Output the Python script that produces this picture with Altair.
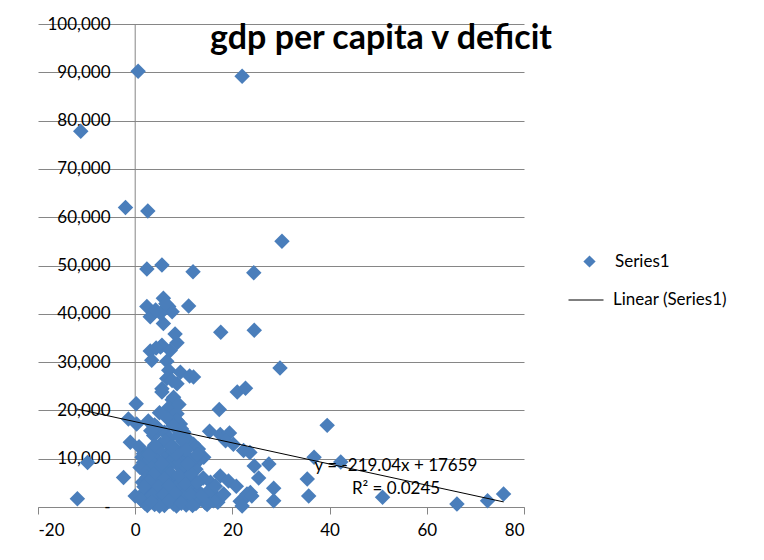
import altair as alt
import pandas as pd

# ---- data (deficit, gdp per capita) ----
deficit = [
    0.6, 22.0, -11.2, -2.0, 2.6, 30.2,
    2.4, 5.5, 11.9, 24.4,
    11.0, 17.6, 24.5, 29.8, 21.0, 22.7, 17.3,
    0.2, 39.5, -1.4, 0.3, -1.0, -9.8, -2.4, -11.9, 0.0,
    36.8, 42.3, 35.4, 35.7, 50.9, 66.2, 72.5, 75.8,
    24.5, 27.5, 25.4, 28.5, 28.5,
    15.3, 17.5, 19.4, 18.6, 20.2, 22.3, 23.6,
    14.1, 13.2, 12.0,
    17.5, 19.2, 20.8, 23.7, 22.0, 14.4, 16.1, 18.2, 21.6, 23.0, 24.0, 22.0, 16.1, 17.0,
    2.4, 5.8, 6.9, 7.6, 3.1, 5.8, 5.2, 4.2, 6.3,
    8.2, 8.6, 5.5, 5.2, 3.1, 7.2, 3.4, 6.5, 4.3,
    6.9, 9.3, 12.0, 6.5, 7.6, 8.6, 5.5, 11.2,
    7.6, 8.2, 6.9, 7.9, 5.5, 7.9, 9.0, 8.6,
    2.7, 9.3, 8.6, 10.0, 3.8, 5.2, 11.7, 9.5, 6.0, 4.5, 10.8, 7.0,
    1.7, 3.5, 6.5, 4.8, 8.0, 9.8,
    1.4, 4.5, 1.7, 9.3, 3.0, 6.0, 7.5, 11.0,
    1.0, 8.6, 11.3, 3.5, 5.0, 6.8, 10.0, 2.2, 12.5,
    2.4, 6.5, 10.7, 4.2, 8.2, 1.5, 5.5, 9.5, 12.0, 14.0, 15.5,
    3.1, 12.0, 6.5, 10.0, 14.8, 2.0, 4.5, 8.0, 11.0, 5.5, 9.0, 13.0,
    3.1, 5.2, 7.9, 11.3, 13.4, 16.1, 18.2, 2.0, 4.0, 6.5, 9.0, 10.5, 12.5,
    4.5, 7.2, 9.8, 1.2, 14.8, 6.0, 8.5, 0.8, 13.0, 12.0, 10.0,
    4.0, 6.5, 5.0, 7.8, 3.2, 8.8, 6.2, 4.0, 9.8, 10.5, 2.8, 5.5, 7.3, 3.8,
    9.0, 11.5, 6.0, 2.8, 4.8, 7.0, 10.3, 12.8, 1.8, 3.5, 5.8, 8.2, 11.5, 13.8,
    2.5, 5.0, 7.0, 9.5, 11.8, 3.3, 15.5, 16.5, 8.4, 10.8, 12.8, 7.5,
]
gdp = [
    90200, 89200, 77800, 62000, 61300, 55000,
    49300, 50100, 48700, 48500,
    41600, 36200, 36600, 28800, 23800, 24600, 20200,
    21400, 16900, 18200, 17200, 13400, 9200, 6100, 1700, 2300,
    10300, 9300, 5800, 2300, 2000, 600, 1300, 2700,
    8500, 8900, 6000, 3900, 1300,
    15700, 15000, 15300, 13700, 13000, 11700, 11300,
    10300, 9800, 13000,
    6400, 5400, 4300, 3000, 1300, 900, 1900, 2600, 1200, 2700, 2300, 200, 2650, 1000,
    41500, 43200, 41500, 40400, 39400, 38000, 40100, 40800, 42100,
    35800, 34000, 33500, 33100, 32300, 32400, 30400, 30200, 32900,
    28300, 27900, 26900, 26600, 26200, 25500, 24500, 27100,
    22200, 20600, 20600, 18900, 23800, 22700, 21200, 19300,
    17800, 17200, 17900, 15500, 14800, 13000, 13000, 16200, 15500, 16500, 14000, 14300,
    11000, 12000, 11000, 11800, 12300, 11200,
    10300, 9600, 9200, 10300, 9800, 10000, 9500, 10300,
    8200, 8900, 8200, 8000, 7600, 8400, 7400, 7200, 7800,
    6100, 6800, 6100, 6300, 5800, 5100, 5300, 5200, 5500, 6000, 5100,
    4400, 4400, 3300, 3300, 3000, 3200, 3600, 4000, 3700, 4500, 4700, 3200,
    1900, 1300, 600, 1300, 1900, 1300, 2700, 800, 500, 1800, 1500, 400, 700,
    2600, 2500, 2300, 1500, 500, 300, 200, 12500, 12000, 9900, 12000,
    17000, 18500, 19500, 16800, 15800, 14800, 13600, 12800, 13600, 11800, 10800, 9000, 7000, 6800,
    6500, 6800, 5800, 5300, 4200, 4300, 4800, 5000, 4200, 2500, 2600, 2900, 2500, 2500,
    300, 200, 1200, 800, 300, 1100, 3500, 4300, 11000, 9000, 10800, 12500,
]

# linear trend line, from the equation printed on the chart (y = -219.04x + 17659)
trend_x = [-12.0, 75.8]
trend_y = [20288, 1056]
eq_text = "y = -219.04x + 17659\nR² = 0.0245"

x_ticks = [-20, 0, 20, 40, 60, 80]
y_ticks = [0, 10000, 20000, 30000, 40000, 50000, 60000, 70000, 80000, 90000, 100000]

FONT = "Lato"
GRID = "#868686"
BLUE = "#4a7ebb"

pts_df = pd.DataFrame({"deficit": deficit, "gdp": gdp, "series": ["Series1"] * len(deficit)})
trend_df = pd.DataFrame({"deficit": trend_x, "gdp": trend_y, "series": ["Linear (Series1)"] * 2})
zero_df = pd.DataFrame({"deficit": [0]})

xscale = alt.Scale(domain=[-20, 80], nice=False, zero=False)
yscale = alt.Scale(domain=[0, 100000], nice=False)

x_axis = alt.Axis(
    values=x_ticks, grid=False, title=None, domainColor=GRID, tickColor=GRID,
    tickSize=7, labelFontSize=17, labelFont=FONT, labelColor="#000",
    labelPadding=8, labelExpr="'' + datum.value",
)
y_axis = alt.Axis(
    values=y_ticks, grid=True, gridColor=GRID, gridOpacity=1, title=None,
    domain=False, ticks=False, labelFontSize=17, labelFont=FONT, labelColor="#000",
    labelAlign="right", labelPadding=-72,
    labelExpr="datum.value == 0 ? '-\u00a0\u00a0\u00a0\u00a0' : format(datum.value, ',')",
)

points = alt.Chart(pts_df).mark_point(
    filled=True, size=240, opacity=1, color=BLUE
).encode(
    x=alt.X("deficit:Q", scale=xscale, axis=x_axis),
    y=alt.Y("gdp:Q", scale=yscale, axis=y_axis),
    shape=alt.Shape(
        "series:N",
        scale=alt.Scale(domain=["Series1"], range=["diamond"]),
        legend=alt.Legend(
            title=None, orient="none", legendX=543, legendY=229,
            symbolSize=150, symbolFillColor=BLUE, symbolStrokeWidth=0,
            labelFont=FONT, labelFontSize=17, labelColor="#000", labelOffset=17,
        ),
    ),
)

zero_line = alt.Chart(zero_df).mark_rule(color=GRID, strokeWidth=1).encode(
    x=alt.X("deficit:Q", scale=xscale, axis=x_axis)
)

trend = alt.Chart(trend_df).mark_line(strokeWidth=1).encode(
    x=alt.X("deficit:Q", scale=xscale, axis=x_axis),
    y=alt.Y("gdp:Q", scale=yscale, axis=y_axis),
    color=alt.Color(
        "series:N",
        scale=alt.Scale(domain=["Linear (Series1)"], range=["black"]),
        legend=alt.Legend(
            title=None, orient="none", legendX=530, legendY=258,
            symbolType="stroke", symbolSize=1225, symbolStrokeWidth=1,
            symbolStrokeColor="black",
            labelFont=FONT, labelFontSize=17, labelColor="#000", labelOffset=9,
        ),
    ),
)

eq = alt.Chart(pd.DataFrame({"t": [eq_text]})).mark_text(
    font=FONT, fontSize=17, color="#000", align="center", baseline="middle",
    lineBreak="\n", lineHeight=23,
).encode(text="t:N", x=alt.value(358), y=alt.value(442))

chart = alt.layer(zero_line, points, trend, eq).properties(
    width=486, height=483,
    padding={"left": 30, "top": 16, "right": 232, "bottom": 45},
    autosize=alt.AutoSizeParams(type="none"),
    background="white",
    view=alt.ViewBackground(stroke="transparent", strokeWidth=0),
    title=alt.TitleParams(
        "gdp per capita v deficit", font=FONT, fontSize=34, fontWeight="bold",
        color="#000", anchor="middle", frame="group", offset=0, dx=100, dy=68,
        baseline="alphabetic",
    ),
).configure_view(strokeWidth=0, stroke="transparent")

chart.save("out.html", embed_options={"renderer": "svg", "actions": False})
